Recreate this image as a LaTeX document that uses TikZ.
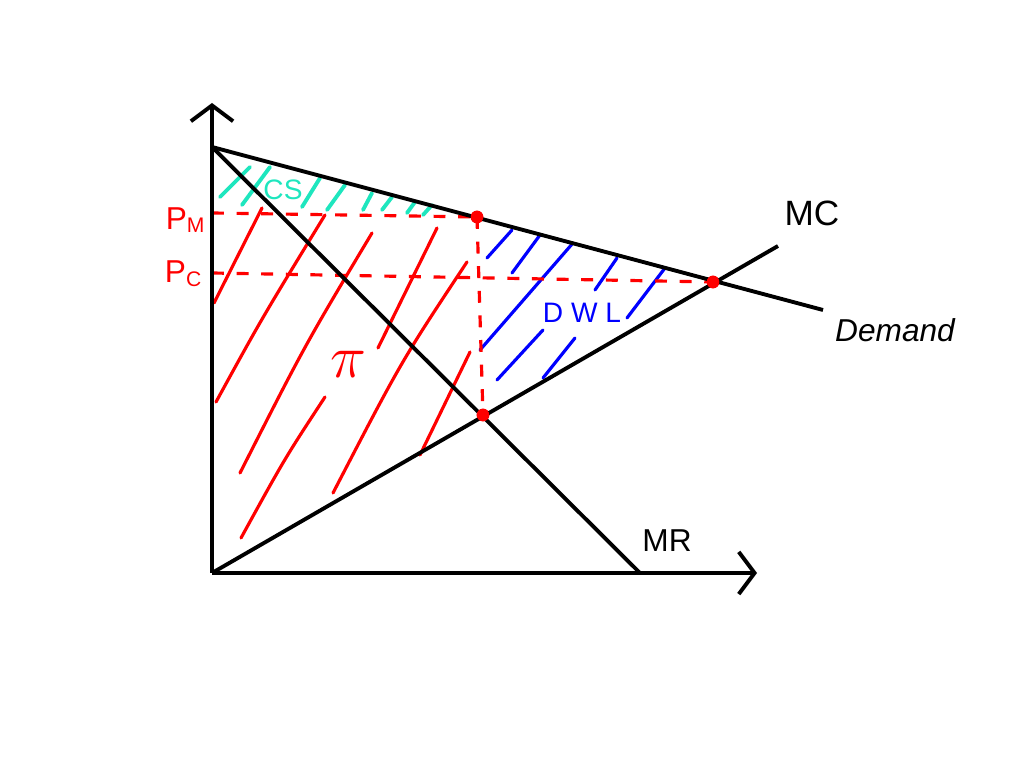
\documentclass[tikz,border=0pt]{standalone}
\usepackage{fontspec}
\setmainfont{Liberation Sans}
\usetikzlibrary{arrows.meta}
\definecolor{hred}{RGB}{255,0,0}
\definecolor{hblue}{RGB}{0,0,255}
\definecolor{hcyan}{RGB}{30,230,190}
\tikzset{
  axisline/.style={line width=1.1pt, black, -{Straight Barb[length=4.5pt,width=12pt,line width=1.1pt]}},
  curve/.style={line width=1.1pt, black},
  guide/.style={line width=0.9pt, hred, dash pattern=on 3.4pt off 3.6pt},
  profit/.style={line width=0.9pt, hred, line cap=round},
  cshatch/.style={line width=1.1pt, hcyan, line cap=round},
  dwlhatch/.style={line width=0.9pt, hblue, line cap=round},
  dotmark/.style={circle, fill=hred, inner sep=0pt, minimum size=3.6pt},
  lbl/.style={font=\fontsize{10}{12}\selectfont, inner sep=0pt}
}
\begin{document}
\begin{tikzpicture}[x=0.01cm,y=-0.01cm]
\useasboundingbox (0,0) rectangle (1024,768);
% named points
\coordinate (O) at (212,573);
\coordinate (Ytop) at (212,103);
\coordinate (Xend) at (757,573);
\coordinate (Dstart) at (212,147);
\coordinate (Dend) at (823,310);
\coordinate (MRend) at (640,573);
\coordinate (MCend) at (778,246);
\coordinate (PMax) at (212,213);
\coordinate (PCax) at (212,273);
\node[dotmark] (pm) at (477,217) {};
\node[dotmark] (qm) at (483,415) {};
\node[dotmark] (ce) at (713,282) {};
% hatching: profit (red)
\draw[profit] (214,303) -- (262,208);
\draw[profit] (216,402) .. controls (262,318) .. (325,215);
\draw[profit] (240,473) .. controls (305,345) .. (372,233);
\draw[profit] (241,538) .. controls (285,458) .. (325,397);
\draw[profit] (378,348) -- (437,228);
\draw[profit] (333,493) .. controls (402,360) .. (467,262);
\draw[profit] (420,455) -- (470,352);
% hatching: CS (cyan)
\draw[cshatch] (220,197) -- (250,167);
\draw[cshatch] (242,205) -- (270,167);
\draw[cshatch] (302,207) -- (320,178);
\draw[cshatch] (327,210) -- (345,185);
\draw[cshatch] (363,210) -- (372,193);
\draw[cshatch] (382,210) -- (392,197);
\draw[cshatch] (407,213) -- (415,202);
\draw[cshatch] (423,215) -- (432,205);
% hatching: DWL (blue)
\draw[dwlhatch] (487,258) -- (512,230);
\draw[dwlhatch] (512,273) -- (540,235);
\draw[dwlhatch] (480,350) -- (573,243);
\draw[dwlhatch] (595,290) -- (617,258);
\draw[dwlhatch] (627,318) -- (665,268);
\draw[dwlhatch] (497,380) -- (543,330);
\draw[dwlhatch] (543,378) -- (575,338);
% guide lines
\draw[guide] (PMax) -- (pm.center);
\draw[guide] (PCax) -- (ce.center);
\draw[guide] (pm.center) -- (qm.center);
% axes and curves
\draw[axisline] (O) -- (Ytop);
\draw[axisline] (O) -- (Xend);
\draw[curve] (Dstart) -- (Dend);
\draw[curve] (Dstart) -- (MRend);
\draw[curve] (O) -- (MCend);
% dots on top
\node[dotmark] at (pm) {};
\node[dotmark] at (qm) {};
\node[dotmark] at (ce) {};
% labels
\node[lbl, text=hred, font=\fontsize{9}{11}\selectfont] (lpm) at (186,220) {P\textsubscript{M}};
\node[lbl, text=hred, font=\fontsize{9}{11}\selectfont] (lpc) at (184,274) {P\textsubscript{C}};
\node[lbl] (lmc) at (812,213) {MC};
\node[lbl, font=\fontsize{9}{11}\itshape] (ld) at (895,330) {Demand};
\node[lbl, font=\fontsize{9}{11}\selectfont] (lmr) at (667,541) {MR};
\node[lbl, text=hred, font=\fontsize{17}{19}\selectfont] (lpi) at (348,364) {$\pi$};
\node[lbl, text=hcyan, font=\fontsize{8}{10}\selectfont] (lcs) at (283,190) {CS};
\node[lbl, text=hblue, font=\fontsize{8}{10}\selectfont] (ldwl) at (582,313) {D W L};
\end{tikzpicture}
\end{document}
